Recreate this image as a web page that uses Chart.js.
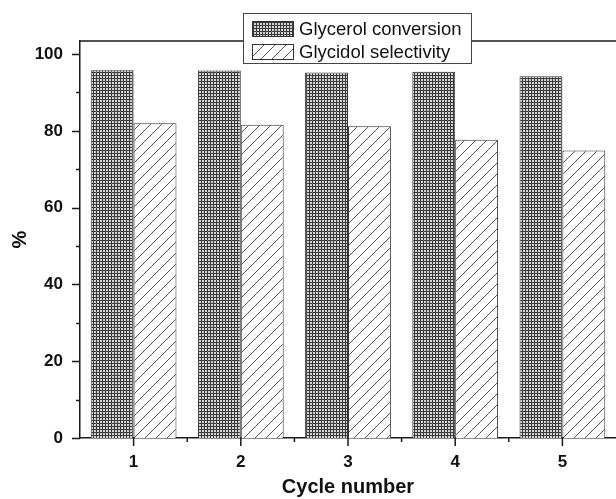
<!DOCTYPE html>
<html>
<head>
<meta charset="utf-8">
<script src="https://cdn.jsdelivr.net/npm/chart.js@4.4.1/dist/chart.umd.min.js"></script>
<style>
    body { margin: 0; background: #fff; overflow: hidden; }
    #wrap { position: relative; width: 616px; height: 499px; }
    #legend {
        position: absolute; left: 243px; top: 13px; width: 227px; height: 49px;
        border: 1px solid #444; background: #fff;
        font-family: Arial, "Liberation Sans", sans-serif; font-size: 18.5px; color: #111;
    }
    .legend-item { position: absolute; left: 8px; height: 16px; display: flex; align-items: center; }
    .legend-item canvas { border: 1px solid #333; width: 40px; height: 14px; margin-right: 5px; }
</style>
</head>
<body>
<div id="wrap">
    <canvas id="cycleChart"></canvas>
    <div id="legend"></div>
</div>
<script>
// data
const cycles = ['1', '2', '3', '4', '5'];
const seriesNames = ['Glycerol conversion', 'Glycidol selectivity'];
const conversion = [95.8, 95.7, 95.2, 95.4, 94.2];
const selectivity = [82.0, 81.6, 81.2, 77.7, 74.9];
const yTickValues = [0, 20, 40, 60, 80, 100];

const fontFamily = 'Arial, "Liberation Sans", sans-serif';

// --- fill patterns ---
function makeCrossPattern() {
    const c = document.createElement('canvas');
    c.width = 3; c.height = 3;
    const ctx = c.getContext('2d');
    ctx.fillStyle = '#d4d4d4';
    ctx.fillRect(0, 0, 3, 3);
    ctx.fillStyle = '#3a3a3a';
    ctx.fillRect(0, 0, 3, 1);
    ctx.fillRect(0, 0, 1, 3);
    return c;
}

function makeHatchPattern() {
    const s = 11;
    const c = document.createElement('canvas');
    c.width = s; c.height = s;
    const ctx = c.getContext('2d');
    ctx.fillStyle = '#fff';
    ctx.fillRect(0, 0, s, s);
    ctx.strokeStyle = '#555';
    ctx.lineWidth = 1;
    [-s, 0, s].forEach(o => {
        ctx.beginPath();
        ctx.moveTo(o, s);
        ctx.lineTo(o + s, 0);
        ctx.stroke();
    });
    return c;
}

const tiles = [makeCrossPattern(), makeHatchPattern()];
const canvas = document.getElementById('cycleChart');
const mainCtx = canvas.getContext('2d');
const fills = tiles.map(t => mainCtx.createPattern(t, 'repeat'));

// --- ticks, frame ---
const frameAndTicks = {
    id: 'frameAndTicks',
    afterDraw(chart) {
        const { ctx, chartArea, scales } = chart;
        const x = scales.x, y = scales.y;
        ctx.save();
        ctx.strokeStyle = '#1a1a1a';
        ctx.lineWidth = 1.5;
        ctx.beginPath();
        // top frame line
        ctx.moveTo(chartArea.left, chartArea.top);
        ctx.lineTo(chart.width, chartArea.top);
        // y ticks
        for (let v = 0; v <= 100; v += 10) {
            const py = Math.round(y.getPixelForValue(v)) + 0.5;
            const len = v % 20 === 0 ? 8 : 4;
            ctx.moveTo(chartArea.left - len, py);
            ctx.lineTo(chartArea.left, py);
        }
        // x ticks
        cycles.forEach((c, i) => {
            const px = x.getPixelForValue(i);
            ctx.moveTo(px, chartArea.bottom);
            ctx.lineTo(px, chartArea.bottom + 8);
            if (i < cycles.length - 1) {
                const mid = (px + x.getPixelForValue(i + 1)) / 2;
                ctx.moveTo(mid, chartArea.bottom);
                ctx.lineTo(mid, chartArea.bottom + 4);
            }
        });
        ctx.stroke();
        ctx.restore();
    }
};

const chart = new Chart(canvas, {
    type: 'bar',
    data: {
        labels: cycles,
        datasets: [
            { label: seriesNames[0], data: conversion, backgroundColor: fills[0], borderColor: '#333', borderWidth: 1 },
            { label: seriesNames[1], data: selectivity, backgroundColor: fills[1], borderColor: '#333', borderWidth: 1 }
        ]
    },
    options: {
        responsive: true,
        maintainAspectRatio: false,
        animation: false,
        layout: { padding: { top: 41, right: 0, bottom: 0, left: 0 } },
        datasets: { bar: { categoryPercentage: 0.8, barPercentage: 1.0 } },
        plugins: { legend: { display: false }, tooltip: { enabled: false } },
        scales: {
            x: {
                grid: { display: false },
                border: { display: true, color: '#1a1a1a', width: 1.5 },
                ticks: { color: '#111', padding: 6, font: { family: fontFamily, size: 17, weight: 'bold' } },
                title: {
                    display: true, text: 'Cycle number', color: '#111',
                    font: { family: fontFamily, size: 20, weight: 'bold' },
                    padding: { top: 0, bottom: 0 }
                },
                afterFit(scale) { scale.height = 61; }
            },
            y: {
                min: 0,
                max: 103.4,
                grid: { display: false },
                border: { display: true, color: '#1a1a1a', width: 1.5 },
                afterBuildTicks(scale) { scale.ticks = yTickValues.map(v => ({ value: v })); },
                ticks: { color: '#111', padding: 9, font: { family: fontFamily, size: 17, weight: 'bold' } },
                title: {
                    display: true, text: '%', color: '#111',
                    font: { family: fontFamily, size: 20, weight: 'bold' },
                    padding: { top: 8, bottom: 0 }
                },
                afterFit(scale) { scale.width = 80; }
            }
        }
    },
    plugins: [frameAndTicks]
});

// --- legend box ---
const legendEl = document.getElementById('legend');
chart.data.datasets.forEach((ds, i) => {
    const item = document.createElement('div');
    item.className = 'legend-item';
    item.style.top = (i === 0 ? 7 : 30) + 'px';
    const sw = document.createElement('canvas');
    sw.width = 40; sw.height = 14;
    const sctx = sw.getContext('2d');
    sctx.fillStyle = sctx.createPattern(tiles[i], 'repeat');
    sctx.fillRect(0, 0, 40, 14);
    const label = document.createElement('span');
    label.innerText = ds.label;
    item.appendChild(sw);
    item.appendChild(label);
    legendEl.appendChild(item);
});
</script>
</body>
</html>
